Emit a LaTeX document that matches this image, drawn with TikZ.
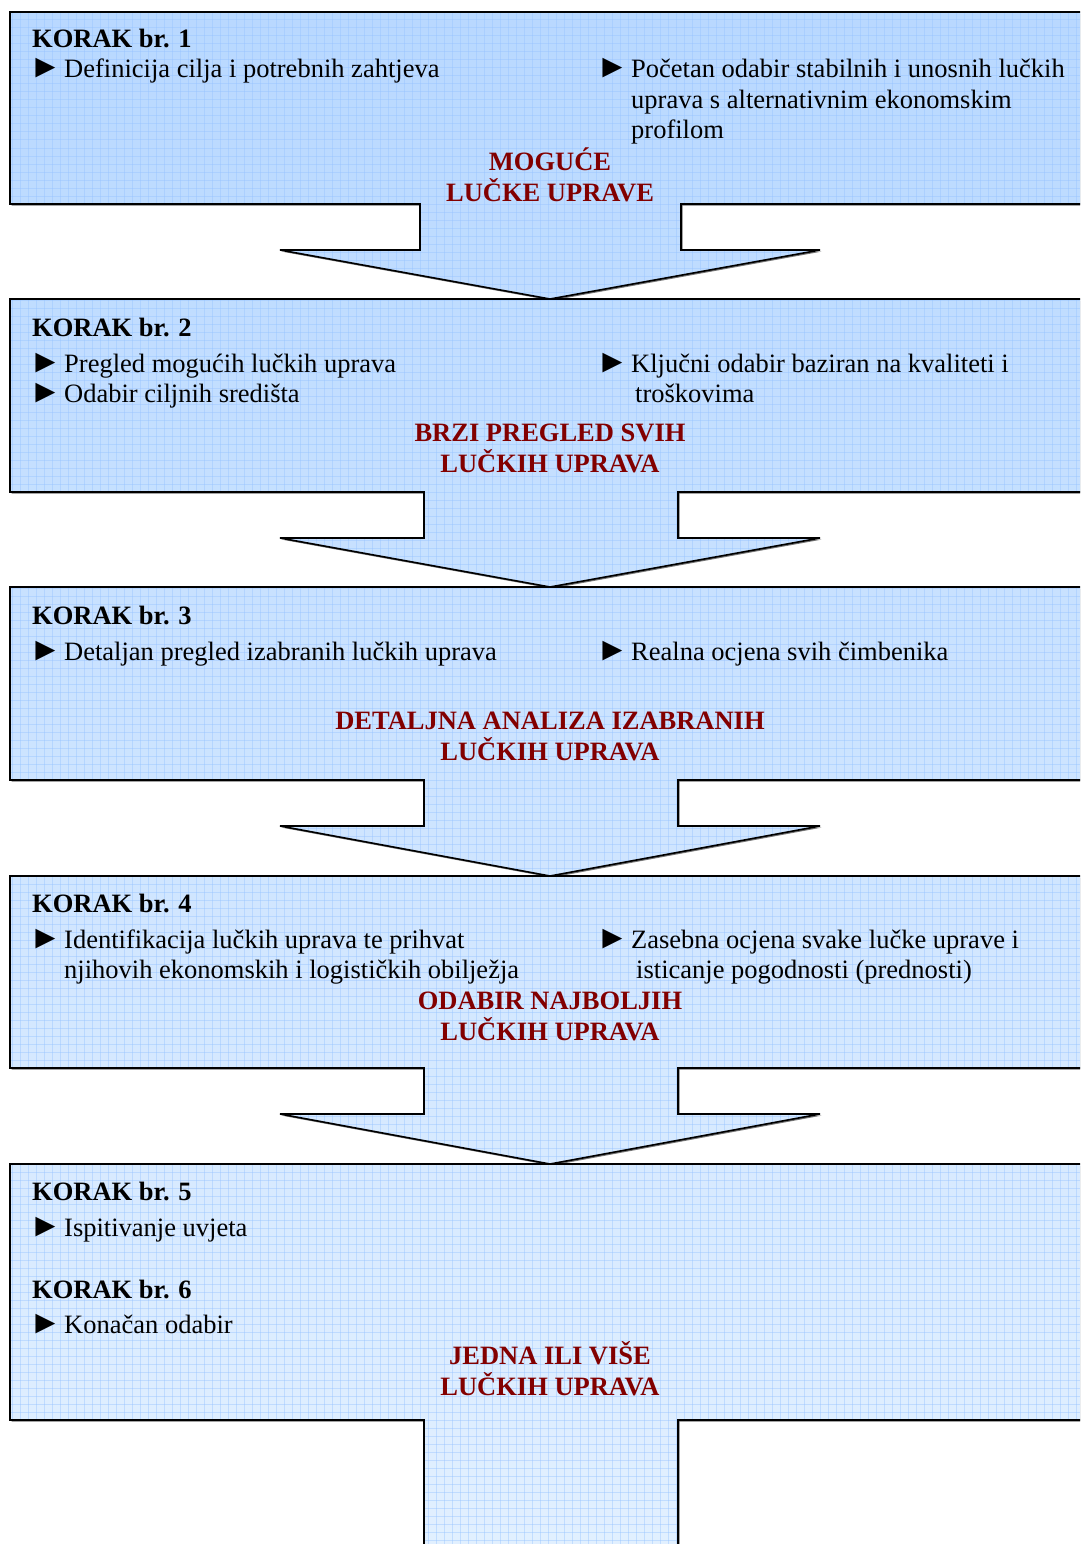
\documentclass[tikz,border=0pt]{standalone}
\usepackage{fontspec}
\setmainfont{Liberation Serif}
\definecolor{bTop}{RGB}{184,216,255}
\definecolor{bBot}{RGB}{226,240,255}
\definecolor{gridc}{RGB}{150,195,255}
\definecolor{redt}{RGB}{130,0,0}
\newcommand\drawseg[7]{\path[#1] (10,#2) -- (1090,#2) -- (1090,#3) -- (#5,#3) -- (#5,#6) -- (820,#6) -- (550,#7) -- (280,#6) -- (#4,#6) -- (#4,#3) -- (10,#3) -- cycle;}
\newcommand\lastseg[1]{\path[#1] (10,1164) -- (1090,1164) -- (1090,1420) -- (678,1420) -- (678,1560) -- (424,1560) -- (424,1420) -- (10,1420) -- cycle;}
\begin{document}
\begin{tikzpicture}[x=1pt,y=-1pt,
  seg/.style={draw=black, line width=1.6pt, line join=miter,
    path picture={
      \shade[top color=bTop, bottom color=bBot] (0,0) rectangle (1080,1544);
      \foreach \k in {4,12,...,1544} \draw[gridc, opacity=0.42, line width=1pt] (0,\k) -- (1080,\k);
      \foreach \k in {4,12,...,1080} \draw[gridc, opacity=0.42, line width=1pt] (\k,0) -- (\k,1544);
    }},
  shad/.style={fill=black!55, shift={(1.6,1.6)}},
  txt/.style={anchor=base west, inner sep=0pt, font=\fontsize{26.5}{30.5}\selectfont},
  bul/.style={anchor=base west, inner sep=0pt, font=\fontsize{33}{36}\selectfont},
  head/.style={txt, font=\fontsize{26.5}{30.5}\selectfont\bfseries},
  red/.style={anchor=base, inner sep=0pt, text=redt, font=\fontsize{26.5}{30.5}\selectfont\bfseries}]
\useasboundingbox (0,0) rectangle (1080,1544);
\clip (0,0) rectangle (1080,1544);
\fill[white] (0,0) rectangle (1080,1544);
% segments
\drawseg{shad}{12}{204}{420}{681}{250}{299}
\drawseg{seg}{12}{204}{420}{681}{250}{299}
\drawseg{shad}{299}{492}{424}{678}{538}{587}
\drawseg{seg}{299}{492}{424}{678}{538}{587}
\drawseg{shad}{587}{780}{424}{678}{826}{876}
\drawseg{seg}{587}{780}{424}{678}{826}{876}
\drawseg{shad}{876}{1068}{424}{678}{1114}{1164}
\drawseg{seg}{876}{1068}{424}{678}{1114}{1164}
\lastseg{shad}
\lastseg{seg}
% box 1
\node[head] (k1) at (32,48) {KORAK br. 1};
\node[bul] (b1a) at (29,78) {►};
\node[txt] (t1a) at (64,78) {Definicija cilja i potrebnih zahtjeva};
\node[bul] (b1b) at (596,78) {►};
\node[txt] (t1b) at (631,78) {Početan odabir stabilnih i unosnih lučkih};
\node[txt] (t1c) at (631,109) {uprava s alternativnim ekonomskim};
\node[txt] (t1d) at (631,139) {profilom};
\node[red] (r1a) at (550,170) {MOGUĆE};
\node[red] (r1b) at (550,201) {LUČKE UPRAVE};
% box 2
\node[head] (k2) at (32,336) {KORAK br. 2};
\node[bul] (b2a) at (29,372) {►};
\node[txt] (t2a) at (64,372) {Pregled mogućih lučkih uprava};
\node[bul] (b2b) at (29,402) {►};
\node[txt] (t2b) at (64,402) {Odabir ciljnih središta};
\node[bul] (b2c) at (596,372) {►};
\node[txt] (t2c) at (631,372) {Ključni odabir baziran na kvaliteti i};
\node[txt] (t2d) at (635,402) {troškovima};
\node[red] (r2a) at (550,441) {BRZI PREGLED SVIH};
\node[red] (r2b) at (550,472) {LUČKIH UPRAVA};
% box 3
\node[head] (k3) at (32,624) {KORAK br. 3};
\node[bul] (b3a) at (29,660) {►};
\node[txt] (t3a) at (64,660) {Detaljan pregled izabranih lučkih uprava};
\node[bul] (b3b) at (596,660) {►};
\node[txt] (t3b) at (631,660) {Realna ocjena svih čimbenika};
\node[red] (r3a) at (550,729) {DETALJNA ANALIZA IZABRANIH};
\node[red] (r3b) at (550,760) {LUČKIH UPRAVA};
% box 4
\node[head] (k4) at (32,912) {KORAK br. 4};
\node[bul] (b4a) at (29,948) {►};
\node[txt] (t4a) at (64,948) {Identifikacija lučkih uprava te prihvat};
\node[txt] (t4b) at (64,978) {njihovih ekonomskih i logističkih obilježja};
\node[bul] (b4b) at (596,948) {►};
\node[txt] (t4c) at (631,948) {Zasebna ocjena svake lučke uprave i};
\node[txt] (t4d) at (636,978) {isticanje pogodnosti (prednosti)};
\node[red] (r4a) at (550,1009) {ODABIR NAJBOLJIH};
\node[red] (r4b) at (550,1040) {LUČKIH UPRAVA};
% box 5
\node[head] (k5) at (32,1200) {KORAK br. 5};
\node[bul] (b5a) at (29,1236) {►};
\node[txt] (t5a) at (64,1236) {Ispitivanje uvjeta};
\node[head] (k6) at (32,1298) {KORAK br. 6};
\node[bul] (b6a) at (29,1333) {►};
\node[txt] (t6a) at (64,1333) {Konačan odabir};
\node[red] (r5a) at (550,1364) {JEDNA ILI VIŠE};
\node[red] (r5b) at (550,1395) {LUČKIH UPRAVA};
\end{tikzpicture}
\end{document}
